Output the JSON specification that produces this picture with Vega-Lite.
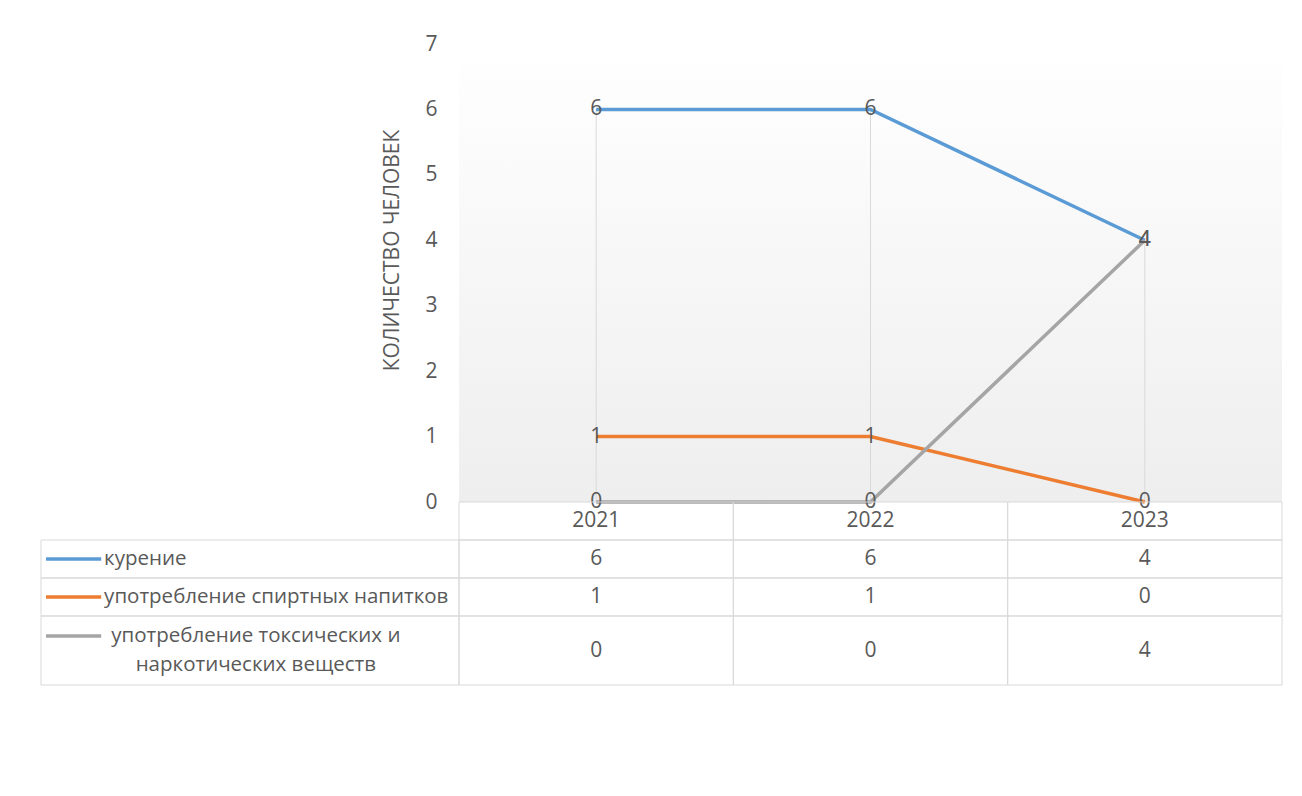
{
  "$schema": "https://vega.github.io/schema/vega-lite/v6.json",
  "background": "white",
  "padding": {"left": 40, "top": 33, "right": 21, "bottom": 113},
  "config": {"view": {"stroke": null}, "font": "Open Sans"},
  "datasets": {
    "d": [
      {"year": "2021", "series": "курение", "value": 6},
      {"year": "2022", "series": "курение", "value": 6},
      {"year": "2023", "series": "курение", "value": 4},
      {"year": "2021", "series": "употребление спиртных напитков", "value": 1},
      {"year": "2022", "series": "употребление спиртных напитков", "value": 1},
      {"year": "2023", "series": "употребление спиртных напитков", "value": 0},
      {"year": "2021", "series": "употребление токсических и наркотических веществ", "value": 0},
      {"year": "2022", "series": "употребление токсических и наркотических веществ", "value": 0},
      {"year": "2023", "series": "употребление токсических и наркотических веществ", "value": 4}
    ],
    "years": [{"year": "2021"}, {"year": "2022"}, {"year": "2023"}],
    "s": [
      {"series": "курение", "label": "курение"},
      {"series": "употребление спиртных напитков", "label": "употребление спиртных напитков"},
      {"series": "употребление токсических и наркотических веществ", "label": ["употребление  токсических и", "наркотических веществ"]}
    ]
  },
  "columns": 2,
  "spacing": 0,
  "bounds": "flush",
  "concat": [
    {
      "width": 418, "height": 458,
      "data": {"values": [{}]},
      "mark": {"type": "rect", "opacity": 0},
      "encoding": {}
    },
    {
      "width": 823, "height": 458,
      "data": {"name": "d"},
      "encoding": {
        "x": {"field": "year", "type": "nominal", "scale": {"type": "point", "padding": 0.5}, "axis": null},
        "y": {
          "field": "value", "type": "quantitative",
          "scale": {"domain": [0, 7], "nice": false, "zero": true},
          "axis": {
            "title": "КОЛИЧЕСТВО ЧЕЛОВЕК",
            "values": [0, 1, 2, 3, 4, 5, 6, 7],
            "domain": false, "ticks": false, "grid": false,
            "labelPadding": 22, "labelFontSize": 21, "labelColor": "#595959",
            "titleFontSize": 21, "titleFontWeight": "normal", "titleColor": "#595959",
            "titlePadding": 22, "titleY": 206
          }
        }
      },
      "layer": [
        {
          "data": {"values": [{}]},
          "mark": {
            "type": "rect",
            "fill": {
              "gradient": "linear", "x1": 0, "y1": 0, "x2": 0, "y2": 1,
              "stops": [
                {"offset": 0, "color": "#ffffff"},
                {"offset": 0.12, "color": "#fdfdfd"},
                {"offset": 1, "color": "#eeeeee"}
              ]
            }
          },
          "encoding": {"x": null, "y": null}
        },
        {
          "mark": {"type": "rule", "color": "#d9d9d9", "strokeWidth": 1},
          "encoding": {
            "y": {"aggregate": "max", "field": "value", "type": "quantitative", "title": "КОЛИЧЕСТВО ЧЕЛОВЕК"},
            "y2": {"datum": 0}
          }
        },
        {
          "mark": {"type": "line", "strokeWidth": 3.5},
          "encoding": {
            "color": {
              "field": "series", "type": "nominal",
              "scale": {
                "domain": ["курение", "употребление спиртных напитков", "употребление токсических и наркотических веществ"],
                "range": ["#5b9bd5", "#ed7d31", "#a5a5a5"]
              },
              "legend": null
            }
          }
        },
        {
          "mark": {"type": "text", "fontSize": 21, "color": "#595959", "baseline": "middle", "align": "center"},
          "encoding": {"text": {"field": "value", "type": "quantitative"}}
        }
      ]
    },
    {
      "width": 418, "height": 38,
      "data": {"values": [{}]},
      "mark": {"type": "rect", "opacity": 0},
      "encoding": {}
    },
    {
      "width": 823, "height": 38,
      "data": {"name": "years"},
      "encoding": {
        "x": {"field": "year", "type": "nominal", "scale": {"type": "band", "paddingInner": 0, "paddingOuter": 0}, "axis": null}
      },
      "layer": [
        {"mark": {"type": "rect", "fill": null, "stroke": "#d9d9d9", "strokeWidth": 1}},
        {"mark": {"type": "text", "fontSize": 21, "color": "#595959", "baseline": "middle"}, "encoding": {"text": {"field": "year"}}}
      ]
    },
    {
      "width": 418, "height": 38,
      "data": {"name": "s"},
      "transform": [{"filter": "datum.series === 'курение'"}],
      "layer": [
        {"mark": {"type": "rect", "fill": null, "stroke": "#d9d9d9", "strokeWidth": 1}, "encoding": {}},
        {
          "mark": {"type": "rule", "strokeWidth": 3.5},
          "encoding": {
            "x": {"datum": 0.012, "type": "quantitative", "scale": {"domain": [0, 1], "nice": false}, "axis": null},
            "x2": {"datum": 0.144},
            "y": {"datum": 0.5, "type": "quantitative", "scale": {"domain": [0, 1], "nice": false}, "axis": null},
            "color": {"field": "series", "type": "nominal", "legend": null}
          }
        },
        {
          "mark": {"type": "text", "fontSize": 20.5, "color": "#595959", "align": "left", "baseline": "middle"},
          "encoding": {
            "x": {"datum": 0.151, "type": "quantitative", "scale": {"domain": [0, 1], "nice": false}, "axis": null},
            "y": {"datum": 0.5, "type": "quantitative", "scale": {"domain": [0, 1], "nice": false}, "axis": null},
            "text": {"field": "label"}
          }
        }
      ]
    },
    {
      "width": 823, "height": 38,
      "data": {"name": "d"},
      "transform": [{"filter": "datum.series === 'курение'"}],
      "encoding": {
        "x": {"field": "year", "type": "nominal", "scale": {"type": "band", "paddingInner": 0, "paddingOuter": 0}, "axis": null}
      },
      "layer": [
        {"mark": {"type": "rect", "fill": null, "stroke": "#d9d9d9", "strokeWidth": 1}},
        {"mark": {"type": "text", "fontSize": 21, "color": "#595959", "baseline": "middle"}, "encoding": {"text": {"field": "value", "type": "quantitative"}}}
      ]
    },
    {
      "width": 418, "height": 38,
      "data": {"name": "s"},
      "transform": [{"filter": "datum.series === 'употребление спиртных напитков'"}],
      "layer": [
        {"mark": {"type": "rect", "fill": null, "stroke": "#d9d9d9", "strokeWidth": 1}, "encoding": {}},
        {
          "mark": {"type": "rule", "strokeWidth": 3.5},
          "encoding": {
            "x": {"datum": 0.012, "type": "quantitative", "scale": {"domain": [0, 1], "nice": false}, "axis": null},
            "x2": {"datum": 0.144},
            "y": {"datum": 0.5, "type": "quantitative", "scale": {"domain": [0, 1], "nice": false}, "axis": null},
            "color": {"field": "series", "type": "nominal", "legend": null}
          }
        },
        {
          "mark": {"type": "text", "fontSize": 20.5, "color": "#595959", "align": "left", "baseline": "middle"},
          "encoding": {
            "x": {"datum": 0.151, "type": "quantitative", "scale": {"domain": [0, 1], "nice": false}, "axis": null},
            "y": {"datum": 0.5, "type": "quantitative", "scale": {"domain": [0, 1], "nice": false}, "axis": null},
            "text": {"field": "label"}
          }
        }
      ]
    },
    {
      "width": 823, "height": 38,
      "data": {"name": "d"},
      "transform": [{"filter": "datum.series === 'употребление спиртных напитков'"}],
      "encoding": {
        "x": {"field": "year", "type": "nominal", "scale": {"type": "band", "paddingInner": 0, "paddingOuter": 0}, "axis": null}
      },
      "layer": [
        {"mark": {"type": "rect", "fill": null, "stroke": "#d9d9d9", "strokeWidth": 1}},
        {"mark": {"type": "text", "fontSize": 21, "color": "#595959", "baseline": "middle"}, "encoding": {"text": {"field": "value", "type": "quantitative"}}}
      ]
    },
    {
      "width": 418, "height": 69,
      "data": {"name": "s"},
      "transform": [{"filter": "datum.series === 'употребление токсических и наркотических веществ'"}],
      "layer": [
        {"mark": {"type": "rect", "fill": null, "stroke": "#d9d9d9", "strokeWidth": 1}, "encoding": {}},
        {
          "mark": {"type": "rule", "strokeWidth": 3.5},
          "encoding": {
            "x": {"datum": 0.012, "type": "quantitative", "scale": {"domain": [0, 1], "nice": false}, "axis": null},
            "x2": {"datum": 0.144},
            "y": {"datum": 0.71, "type": "quantitative", "scale": {"domain": [0, 1], "nice": false}, "axis": null},
            "color": {"field": "series", "type": "nominal", "legend": null}
          }
        },
        {
          "mark": {"type": "text", "fontSize": 20.5, "color": "#595959", "align": "center", "baseline": "middle", "lineHeight": 29},
          "encoding": {
            "x": {"datum": 0.514, "type": "quantitative", "scale": {"domain": [0, 1], "nice": false}, "axis": null},
            "y": {"datum": 0.71, "type": "quantitative", "scale": {"domain": [0, 1], "nice": false}, "axis": null},
            "text": {"field": "label"}
          }
        }
      ]
    },
    {
      "width": 823, "height": 69,
      "data": {"name": "d"},
      "transform": [{"filter": "datum.series === 'употребление токсических и наркотических веществ'"}],
      "encoding": {
        "x": {"field": "year", "type": "nominal", "scale": {"type": "band", "paddingInner": 0, "paddingOuter": 0}, "axis": null}
      },
      "layer": [
        {"mark": {"type": "rect", "fill": null, "stroke": "#d9d9d9", "strokeWidth": 1}},
        {"mark": {"type": "text", "fontSize": 21, "color": "#595959", "baseline": "middle"}, "encoding": {"text": {"field": "value", "type": "quantitative"}}}
      ]
    }
  ]
}
